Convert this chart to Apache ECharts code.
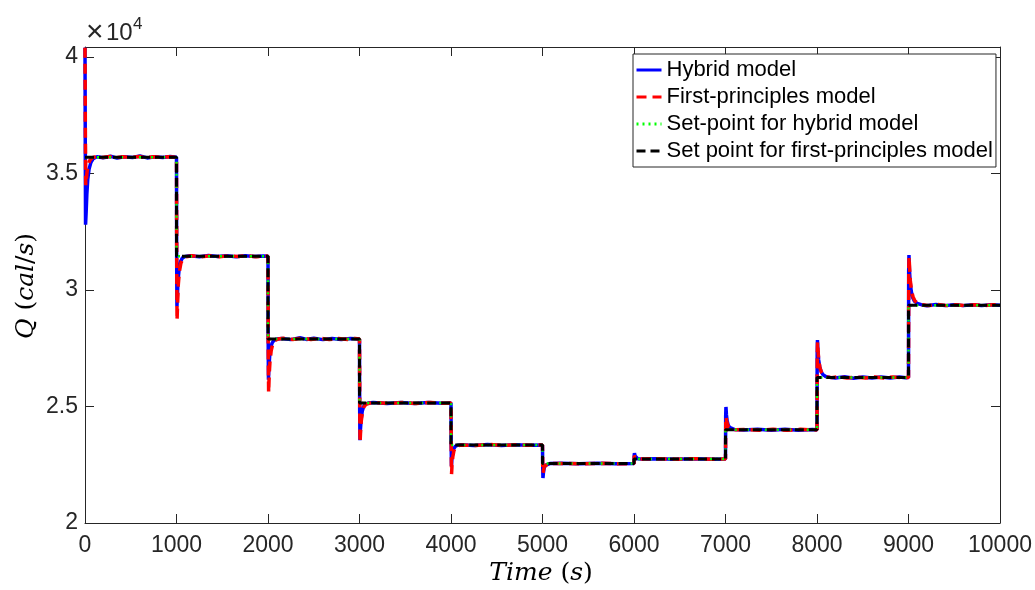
<!DOCTYPE html>
<html>
<head>
<meta charset="utf-8">
<script src="https://cdn.jsdelivr.net/npm/echarts@6/dist/echarts.min.js"></script>
<style>html,body{margin:0;padding:0;background:#fff}#c{width:1035px;height:590px}</style>
</head>
<body>
<div id="c"></div>
<script>
// ---- data (time in s, Q in cal/s) ----
const stepTimes = [0, 1000, 2000, 3000, 4000, 5000, 6000, 7000, 8000, 9000, 10000];
const setpointLevels = [35700, 31450, 27900, 25150, 23350, 22550, 22750, 24000, 26250, 29350];

const hybrid = [
  [0,40400],[3,36200],[6,32800],[12,33300],[20,34100],[30,34750],[45,35200],[65,35480],[90,35640],[130,35720],[200,35680],[280,35740],[350,35660],[430,35720],[520,35690],[600,35750],[680,35670],[760,35720],[850,35690],[930,35730],[1000,35700],
  [1002,31200],[1005,29300],[1010,29800],[1018,30450],[1030,30950],[1045,31230],[1065,31380],[1095,31440],[1150,31470],[1250,31430],[1350,31480],[1450,31440],[1550,31470],[1650,31430],[1750,31470],[1850,31440],[1950,31460],[2000,31450],
  [2002,27800],[2005,26150],[2010,26650],[2018,27150],[2030,27520],[2045,27730],[2065,27840],[2095,27900],[2150,27920],[2250,27870],[2350,27950],[2420,27880],[2500,27930],[2600,27870],[2700,27920],[2800,27880],[2900,27920],[3000,27900],
  [3002,24900],[3005,23550],[3010,24000],[3018,24450],[3030,24800],[3045,25000],[3065,25100],[3095,25150],[3150,25170],[3300,25130],[3450,25170],[3600,25130],[3750,25170],[3900,25140],[4000,25150],
  [4002,23300],[4005,22450],[4010,22750],[4018,23000],[4030,23180],[4045,23280],[4070,23340],[4110,23360],[4250,23330],[4400,23370],[4550,23330],[4700,23360],[4850,23340],[5000,23350],
  [5002,22500],[5005,21930],[5010,22150],[5018,22350],[5030,22470],[5050,22530],[5080,22550],[5200,22560],[5400,22540],[5600,22560],[5800,22540],[6000,22550],
  [6002,22900],[6005,23000],[6012,22880],[6022,22800],[6040,22760],[6080,22750],[6250,22760],[6450,22740],[6650,22760],[6850,22740],[7000,22750],
  [7002,24600],[7005,24980],[7010,24650],[7018,24380],[7030,24200],[7045,24100],[7065,24040],[7100,24010],[7200,23990],[7350,24020],[7500,23980],[7650,24020],[7800,23980],[7950,24010],[8000,24000],
  [8002,27200],[8005,27850],[8010,27400],[8018,27000],[8030,26700],[8045,26500],[8065,26370],[8095,26290],[8140,26250],[8200,26220],[8300,26280],[8400,26210],[8500,26270],[8600,26220],[8700,26270],[8800,26220],[8900,26270],[8970,26230],[9000,26250],
  [9002,30800],[9005,31500],[9010,30900],[9018,30350],[9030,29950],[9045,29680],[9065,29520],[9095,29420],[9140,29370],[9200,29320],[9300,29380],[9400,29330],[9500,29370],[9600,29330],[9700,29370],[9800,29330],[9900,29370],[10000,29350]
];

const firstPrinciples = [
  [0,40400],[4,36800],[8,34500],[14,34700],[22,35050],[35,35380],[55,35580],[80,35680],[120,35720],[190,35690],[270,35730],[340,35680],[420,35720],[500,35690],[590,35730],[670,35680],[750,35720],[840,35690],[920,35720],[1000,35700],
  [1003,30600],[1006,28700],[1012,29450],[1020,30250],[1032,30800],[1048,31150],[1070,31340],[1105,31430],[1170,31470],[1270,31430],[1370,31470],[1470,31430],[1570,31470],[1670,31440],[1770,31470],[1870,31430],[1960,31460],[2000,31450],
  [2003,27300],[2007,25600],[2013,26350],[2022,26950],[2035,27400],[2052,27680],[2075,27830],[2110,27900],[2170,27930],[2270,27880],[2370,27940],[2470,27880],[2570,27930],[2670,27870],[2770,27920],[2870,27880],[2950,27920],[3000,27900],
  [3003,24700],[3006,23450],[3012,23950],[3020,24400],[3032,24750],[3048,24980],[3070,25090],[3105,25140],[3170,25170],[3320,25130],[3470,25170],[3620,25130],[3770,25170],[3920,25140],[4000,25150],
  [4003,23000],[4006,22100],[4012,22550],[4020,22850],[4032,23100],[4048,23250],[4072,23320],[4115,23350],[4270,23330],[4420,23370],[4570,23330],[4720,23360],[4870,23340],[5000,23350],
  [5003,22400],[5006,22150],[5012,22300],[5020,22420],[5035,22500],[5060,22540],[5100,22550],[5250,22560],[5450,22540],[5650,22560],[5850,22540],[6000,22550],
  [6003,22880],[6006,22950],[6014,22850],[6025,22790],[6045,22760],[6090,22750],[6270,22760],[6470,22740],[6670,22760],[6870,22740],[7000,22750],
  [7003,24350],[7006,24550],[7012,24400],[7020,24250],[7033,24120],[7050,24060],[7075,24020],[7110,24000],[7220,24010],[7370,23980],[7520,24020],[7670,23980],[7820,24020],[7960,23990],[8000,24000],
  [8003,27200],[8006,27770],[8012,27350],[8020,26950],[8033,26650],[8050,26460],[8075,26340],[8110,26270],[8160,26240],[8230,26280],[8330,26220],[8430,26270],[8530,26220],[8630,26270],[8730,26220],[8830,26270],[8930,26230],[9000,26250],
  [9003,30800],[9006,31420],[9012,30950],[9020,30400],[9033,29980],[9050,29700],[9072,29520],[9105,29420],[9150,29370],[9220,29330],[9320,29380],[9420,29330],[9520,29370],[9620,29330],[9720,29370],[9820,29330],[9920,29370],[10000,29350]
];

const seriesNames = ['Hybrid model', 'First-principles model', 'Set-point for hybrid model', 'Set point for first-principles model'];

// step function vertices for the set-points
const setpoint = [];
for (let i = 0; i < setpointLevels.length; i++) {
  setpoint.push([stepTimes[i], setpointLevels[i]]);
  setpoint.push([stepTimes[i + 1], setpointLevels[i]]);
}

const axisColor = '#262626';
const chart = echarts.init(document.getElementById('c'), null, {renderer: 'canvas'});
const xCommon = {
  type: 'value', min: 0, max: 10000, interval: 1000,
  axisLine: {show: true, onZero: false, lineStyle: {color: axisColor, width: 1}},
  axisTick: {show: true, inside: true, length: 9, lineStyle: {color: axisColor}},
  splitLine: {show: false}
};
const yCommon = {
  type: 'value', min: 20000, max: 40430, interval: 5000,
  axisLine: {show: true, onZero: false, lineStyle: {color: axisColor, width: 1}},
  axisTick: {show: true, inside: true, length: 9, lineStyle: {color: axisColor}},
  splitLine: {show: false}
};
const serif = {fontFamily: 'DejaVu Serif', fontSize: 25, color: '#000', fill: '#000'};
const serifI = Object.assign({}, serif, {fontStyle: 'italic'});

chart.setOption({
  animation: false,
  backgroundColor: '#fff',
  grid: {left: 85, right: 35, top: 47, bottom: 67, containLabel: false},
  xAxis: [
    Object.assign({}, xCommon, {position: 'bottom',
      axisLabel: {show: true, margin: 11, fontSize: 23, fontFamily: 'Liberation Sans, Arial, sans-serif', color: axisColor,
        formatter: v => String(v)}}),
    Object.assign({}, xCommon, {position: 'top', axisLabel: {show: false}})
  ],
  yAxis: [
    Object.assign({}, yCommon, {position: 'left',
      axisLabel: {show: true, margin: 7, fontSize: 23, fontFamily: 'Liberation Sans, Arial, sans-serif', color: axisColor,
        formatter: v => String(v / 10000)}}),
    Object.assign({}, yCommon, {position: 'right', axisLabel: {show: false}})
  ],
  legend: {
    data: seriesNames,
    orient: 'vertical', left: 633, top: 54,
    itemWidth: 25, itemHeight: 14, itemGap: 5,
    padding: [5, 3, 5, 2],
    borderColor: axisColor, borderWidth: 1, backgroundColor: '#fff',
    selectedMode: false,
    itemStyle: {opacity: 0},
    lineStyle: {width: 3},
    textStyle: {fontSize: 22, lineHeight: 22, fontFamily: 'Liberation Sans, Arial, sans-serif', color: '#000'},
    z: 10
  },
  graphic: [
    {type: 'text', x: 86, y: 33, style: {text: '×', font: '30px "Liberation Sans", Arial, sans-serif', fill: axisColor, align: 'left', verticalAlign: 'middle'}},
    {type: 'text', x: 106, y: 33, style: {text: '10', font: '24px "Liberation Sans", Arial, sans-serif', fill: axisColor, align: 'left', verticalAlign: 'middle'}},
    {type: 'text', x: 133, y: 24, style: {text: '4', font: '17px "Liberation Sans", Arial, sans-serif', fill: axisColor, align: 'left', verticalAlign: 'middle'}},
    {type: 'text', x: 541, y: 573, style: {
      text: '{i|Time}{n| (}{i|s}{n|)}', align: 'center', verticalAlign: 'middle',
      rich: {i: serifI, n: serif}}},
    {type: 'text', x: 26, y: 286, rotation: Math.PI / 2, style: {
      text: '{i|Q}{n| (}{i|cal}{n|/}{i|s}{n|)}', align: 'center', verticalAlign: 'middle',
      rich: {i: serifI, n: serif}}}
  ],
  series: [
    {name: seriesNames[0], type: 'line', data: hybrid, symbol: 'none', clip: false,
      lineStyle: {color: '#0000ff', width: 3.5}, itemStyle: {color: '#0000ff'}},
    {name: seriesNames[1], type: 'line', data: firstPrinciples, symbol: 'none', clip: false,
      lineStyle: {color: '#ff0000', width: 3.5, type: [10, 6]}, itemStyle: {color: '#ff0000'}},
    {name: seriesNames[2], type: 'line', data: setpoint, symbol: 'none', clip: false,
      lineStyle: {color: '#00ff00', width: 2.5, type: [2, 4]}, itemStyle: {color: '#00ff00'}},
    {name: seriesNames[3], type: 'line', data: setpoint, symbol: 'none', clip: false,
      lineStyle: {color: '#000000', width: 3, type: [9, 5]}, itemStyle: {color: '#000000'}}
  ]
});
</script>
</body>
</html>
